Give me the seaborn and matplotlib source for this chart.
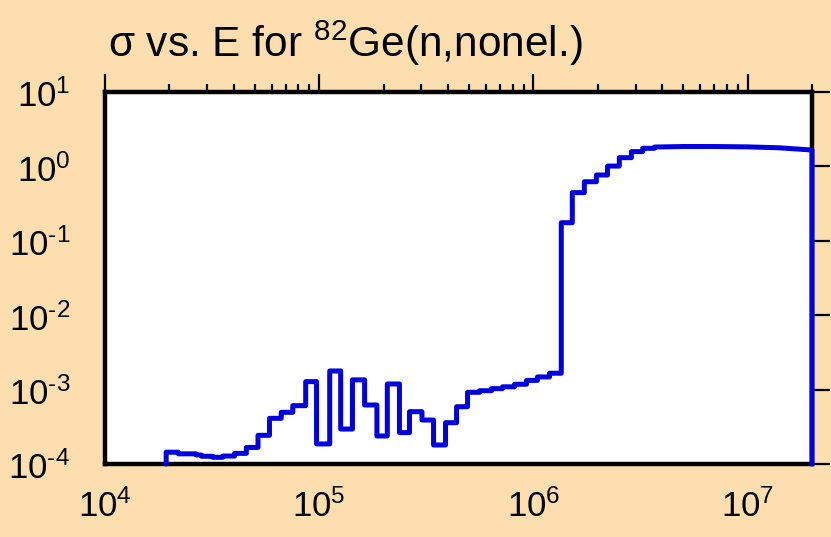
import numpy as np
import pandas as pd
import seaborn as sns
import matplotlib.pyplot as plt
import matplotlib.transforms as mtransforms
from matplotlib.ticker import LogLocator, FuncFormatter, NullLocator

# group boundaries (eV) and cross section per group (b)
edges = [1.93e4, 2.20e4, 2.67e4, 2.82e4, 3.19e4, 3.55e4, 4.03e4, 4.57e4, 5.18e4, 5.86e4,
         6.65e4, 7.53e4, 8.65e4, 9.72e4, 1.12e5, 1.26e5, 1.43e5, 1.63e5, 1.86e5, 2.08e5,
         2.37e5, 2.64e5, 3.02e5, 3.42e5, 3.89e5, 4.38e5, 4.93e5, 5.61e5, 6.38e5, 7.18e5,
         8.17e5, 9.29e5, 1.045e6, 1.19e6, 1.35e6, 1.52e6, 1.73e6, 1.97e6, 2.22e6, 2.52e6,
         2.87e6, 3.24e6, 3.68e6]
sigma = [1.44e-4, 1.37e-4, 1.32e-4, 1.27e-4, 1.23e-4, 1.28e-4, 1.39e-4, 1.67e-4, 2.43e-4, 4.11e-4,
         4.95e-4, 6.08e-4, 1.28e-3, 1.86e-4, 1.78e-3, 2.95e-4, 1.35e-3, 6.21e-4, 2.38e-4, 1.19e-3,
         2.64e-4, 5.05e-4, 3.90e-4, 1.80e-4, 3.59e-4, 5.89e-4, 9.20e-4, 9.66e-4, 1.03e-3, 1.09e-3,
         1.18e-3, 1.33e-3, 1.48e-3, 1.66e-3, 0.175, 0.444, 0.622, 0.766, 1.01, 1.31,
         1.58, 1.75]
# smooth high-energy part
tail_e = [3.68e6, 5e6, 7e6, 1e7, 1.4e7, 2e7]
tail_sigma = [1.82, 1.85, 1.85, 1.83, 1.78, 1.66]
floor = 1e-4

xs = [edges[0]]
ys = [floor]
for i, v in enumerate(sigma):
    xs += [edges[i], edges[i + 1]]
    ys += [v, v]
xs += tail_e
ys += tail_sigma
xs.append(tail_e[-1])
ys.append(floor)
df = pd.DataFrame({'E': xs, 'sigma': ys})

sns.set_style('white')
plt.rcParams['font.family'] = ['Liberation Sans', 'DejaVu Sans']
plt.rcParams['mathtext.fontset'] = 'custom'
plt.rcParams['mathtext.rm'] = 'Liberation Sans'
plt.rcParams['text.color'] = 'black'
plt.rcParams['xtick.color'] = 'black'
plt.rcParams['ytick.color'] = 'black'

bg = '#FDDFAF'
fig = plt.figure(figsize=(8.31, 5.37), dpi=100, facecolor=bg)
ax = fig.add_axes([105 / 831, 1 - 464 / 537, (812 - 105) / 831, (464 - 92) / 537])
ax.set_facecolor('white')

sns.lineplot(data=df, x='E', y='sigma', sort=False, estimator=None, ax=ax,
             color='#0000E0', linewidth=3.6, zorder=3, clip_on=False)

ax.set_xscale('log')
ax.set_yscale('log')
ax.set_xlim(1e4, 2e7)
ax.set_ylim(1e-4, 1e1)
ax.set_xlabel('')
ax.set_ylabel('')

for s in ax.spines.values():
    s.set_linewidth(3.2)
    s.set_color('black')

ax.xaxis.set_major_locator(LogLocator(base=10, numticks=10))
ax.xaxis.set_minor_locator(LogLocator(base=10, subs=np.arange(2, 10), numticks=10))
ax.yaxis.set_major_locator(LogLocator(base=10, numticks=10))
ax.yaxis.set_minor_locator(NullLocator())


def fmt(v, pos):
    e = int(round(np.log10(v)))
    return r'$\mathregular{10^{%s}}$' % ('\u2010' + str(-e) if e < 0 else str(e))


ax.xaxis.set_major_formatter(FuncFormatter(fmt))
ax.yaxis.set_major_formatter(FuncFormatter(fmt))
ax.tick_params(axis='both', which='major', direction='out', length=13, width=1.6,
               labelsize=25, top=True, right=True)
ax.tick_params(axis='x', which='major', pad=5)
ax.tick_params(axis='y', which='major', pad=12)
ax.tick_params(axis='x', which='minor', direction='out', length=6, width=1.6, top=True)

shift_down = mtransforms.ScaledTranslation(0, -1 / 72, fig.dpi_scale_trans)
for lab in ax.get_yticklabels():
    lab.set_transform(lab.get_transform() + shift_down)

fig.text(108 / 831, 1 - 57 / 537, r'σ vs. E for $\mathregular{^{82}}$Ge(n,nonel.)',
         fontsize=30.5, ha='left', va='baseline')

fig.savefig('out.png', dpi=100, facecolor=bg)
